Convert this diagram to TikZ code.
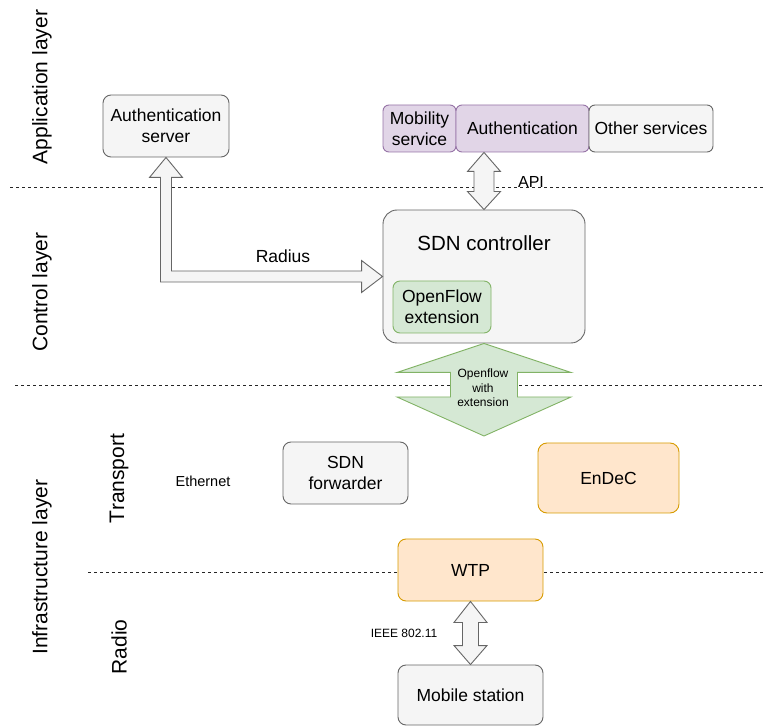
\documentclass[tikz,border=0pt]{standalone}
\usepackage{fontspec}
\setmainfont{Liberation Sans}
\usetikzlibrary{calc}
\definecolor{grayfill}{HTML}{F5F5F5}
\definecolor{graystroke}{HTML}{666666}
\definecolor{purpfill}{HTML}{E1D5E7}
\definecolor{purpstroke}{HTML}{9673A6}
\definecolor{greenfill}{HTML}{D5E8D4}
\definecolor{greenstroke}{HTML}{82B366}
\definecolor{orfill}{HTML}{FFE6CC}
\definecolor{orstroke}{HTML}{D79B00}
\newcommand\vdblarrow[7]{% style, top, bottom, shaft half, head half, top head len, bottom head len
  \draw[#1] let \p1=(#2), \p2=(#3) in
    (\x1,\y1) -- (\x1+#5,\y1-#6) -- (\x1+#4,\y1-#6) -- (\x1+#4,\y2+#7) -- (\x1+#5,\y2+#7)
    -- (\x1,\y2) -- (\x1-#5,\y2+#7) -- (\x1-#4,\y2+#7) -- (\x1-#4,\y1-#6) -- (\x1-#5,\y1-#6) -- cycle;}
\tikzset{
  box/.style={draw, line width=0.9pt, rounded corners=8pt, align=center, inner sep=0pt,
    font=\fontsize{17.5}{21}\selectfont},
  graybox/.style={box, fill=grayfill, draw=graystroke},
  purpbox/.style={box, fill=purpfill, draw=purpstroke},
  greenbox/.style={box, fill=greenfill, draw=greenstroke},
  orbox/.style={box, fill=orfill, draw=orstroke},
  layerlabel/.style={rotate=90, font=\fontsize{21}{25}\selectfont, inner sep=0pt},
  sepline/.style={line width=0.8pt, black!85, dash pattern=on 3pt off 3pt},
  grayarrow/.style={fill=grayfill, draw=graystroke, line width=0.9pt, line join=miter},
  greenarrow/.style={fill=greenfill, draw=greenstroke, line width=0.9pt, line join=miter},
  plainlabel/.style={inner sep=0pt, align=center}
}
\begin{document}
\begin{tikzpicture}[x=1pt, y=-1pt]
\useasboundingbox (0,0) rectangle (764,727);
% layer separators
\draw[sepline] (10,187) -- (764,187);
\draw[sepline] (15,385) -- (764,385);
\draw[sepline] (88,572) -- (764,572);
% layer labels
\node[layerlabel] (lapp) at (42,87) {Application layer};
\node[layerlabel] (lctrl) at (42,292) {Control layer};
\node[layerlabel] (linfra) at (42,567) {Infrastructure layer};
\node[layerlabel] (ltrans) at (119,478.5) {Transport};
\node[layerlabel] (lradio) at (119,647) {Radio};
% boxes
\node[graybox, minimum width=126pt, minimum height=62pt] (auth) at (166,126) {Authentication\\server};
\node[purpbox, rounded corners=6pt, minimum width=73pt, minimum height=47pt] (mob) at (419.5,128.5) {Mobility\\service};
\node[purpbox, rounded corners=6pt, minimum width=133pt, minimum height=47pt] (authsvc) at (522.5,128.5) {Authentication};
\node[graybox, rounded corners=6pt, minimum width=124pt, minimum height=47pt] (other) at (651,128.5) {Other services};
\node[graybox, rounded corners=14pt, minimum width=202pt, minimum height=133pt] (ctrl) at (484,276.5) {};
\node[plainlabel, font=\fontsize{20.5}{24}\selectfont] (ctrltitle) at (484,243) {SDN controller};
\node[greenbox, rounded corners=7pt, minimum width=98pt, minimum height=52pt] (ofext) at (442,307) {OpenFlow\\extension};
\node[graybox, minimum width=125pt, minimum height=62pt] (fwd) at (345.5,473) {SDN\\forwarder};
\node[orbox, rounded corners=9pt, minimum width=141pt, minimum height=70pt] (endec) at (608.5,478) {EnDeC};
\node[orbox, minimum width=145pt, minimum height=62pt] (wtp) at (470.5,570) {WTP};
\node[graybox, minimum width=145pt, minimum height=60pt] (ms) at (470.5,695) {Mobile station};
% arrows
\vdblarrow{grayarrow}{authsvc.south -| ctrl.north}{ctrl.north}{10pt}{16.5pt}{19pt}{18pt}
\vdblarrow{greenarrow}{ctrl.south}{484,436}{33.5pt}{87pt}{29pt}{39pt}
\vdblarrow{grayarrow}{wtp.south}{ms.north}{8pt}{16.5pt}{21pt}{19pt}
\draw[grayarrow] let \p1=(auth.south), \p2=(ctrl.west) in
  (\x1,\y1) -- (\x1+16.5pt,\y1-20pt) -- (\x1+5.5pt,\y1-20pt) -- (\x1+5.5pt,\y2+5.5pt)
  -- (\x2-21pt,\y2+5.5pt) -- (\x2-21pt,\y2+16pt) -- (\x2,\y2) -- (\x2-21pt,\y2-16pt)
  -- (\x2-21pt,\y2-5.5pt) -- (\x1-5.5pt,\y2-5.5pt) -- (\x1-5.5pt,\y1-20pt) -- (\x1-16.5pt,\y1-20pt) -- cycle;
% connector labels
\node[plainlabel, font=\fontsize{16}{19}\selectfont] (api) at (531,182) {API};
\node[plainlabel, font=\fontsize{17.5}{21}\selectfont] (radius) at (283,256) {Radius};
\node[plainlabel, font=\fontsize{12}{14.5}\selectfont] (oflabel) at (483,388) {Openflow\\with\\extension};
\node[plainlabel, font=\fontsize{14.5}{17}\selectfont] (eth) at (203,481) {Ethernet};
\node[plainlabel, font=\fontsize{12}{14}\selectfont] (ieee) at (404,633) {IEEE 802.11};
\end{tikzpicture}
\end{document}
